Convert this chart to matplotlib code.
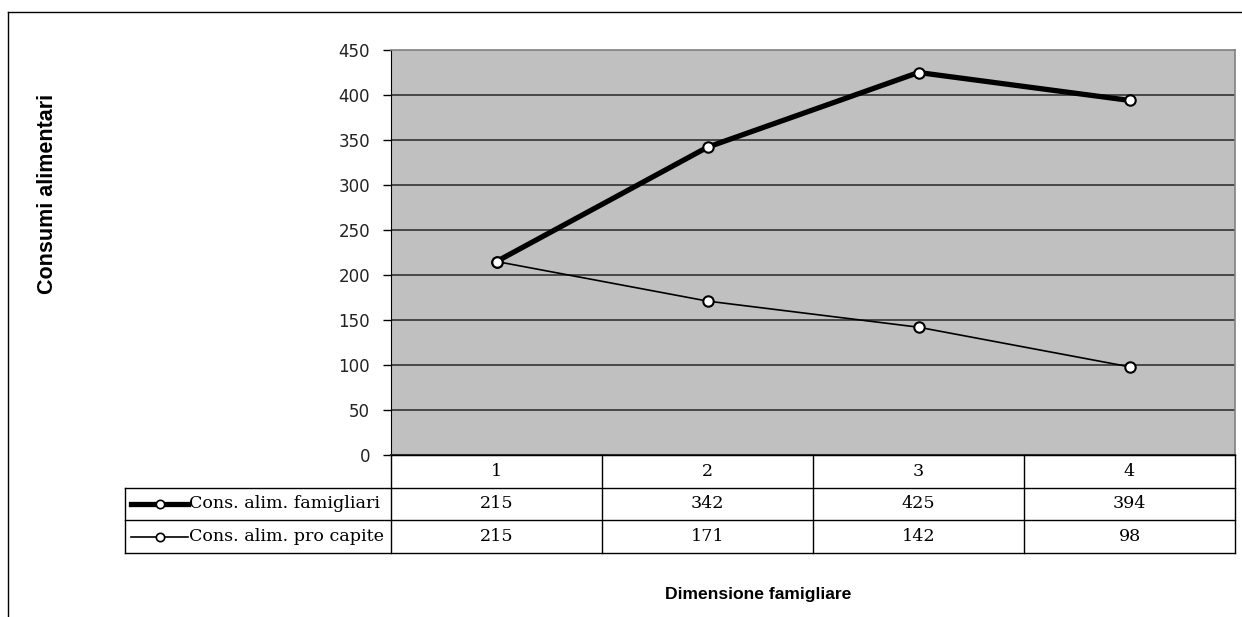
import matplotlib
matplotlib.use("Agg")
import matplotlib.pyplot as plt
from matplotlib.lines import Line2D

# dati
categorie = ["1", "2", "3", "4"]
famigliari = [215, 342, 425, 394]
pro_capite = [215, 171, 142, 98]
serie_nomi = ["Cons. alim. famigliari", "Cons. alim. pro capite"]
y_ticks = [0, 50, 100, 150, 200, 250, 300, 350, 400, 450]

W, H = 1242, 617
fig = plt.figure(figsize=(W / 100, H / 100), dpi=100)
fig.patch.set_facecolor("white")

# cornice dell'area grafico (tagliata a destra e in basso)
fig.add_artist(Line2D([8 / W, 8 / W], [0, 1 - 12 / H], color="black", lw=1, transform=fig.transFigure))
fig.add_artist(Line2D([8 / W, 1], [1 - 12 / H, 1 - 12 / H], color="black", lw=1, transform=fig.transFigure))

# area del tracciato
x0, x1, ytop, ybot = 391, 1235, 50, 455
ax = fig.add_axes([x0 / W, 1 - ybot / H, (x1 - x0) / W, (ybot - ytop) / H])
ax.set_facecolor("#c0c0c0")
ax.set_xlim(0, len(categorie))
ax.set_ylim(0, 450)
ax.set_yticks(y_ticks)
ax.set_yticklabels([str(v) for v in y_ticks], fontsize=12, family="DejaVu Sans", color="#222222")
ax.tick_params(axis="y", length=6, width=1, pad=9, direction="out")
ax.set_xticks([])
for v in y_ticks[1:-1]:
    ax.axhline(v, color="#333333", lw=1.2, zorder=1)
for s in ["top", "right"]:
    ax.spines[s].set_color("#808080")
    ax.spines[s].set_linewidth(1.2)
ax.spines["left"].set_color("black")
ax.spines["bottom"].set_color("#333333")
ax.spines["bottom"].set_linewidth(1.5)

xs = [i + 0.5 for i in range(len(categorie))]
stili = [dict(lw=3.8), dict(lw=1.2)]
for vals, st in zip([famigliari, pro_capite], stili):
    ax.plot(xs, vals, color="black", marker="o", markersize=7.5, markerfacecolor="white",
            markeredgecolor="black", markeredgewidth=1.5, zorder=3, clip_on=False, **st)

# tabella dati
tl, tb, tt = 125, 553, 455
lab_w = (x0 - tl) / ((x1 - x0) / len(categorie))
tab = fig.add_axes([tl / W, 1 - tb / H, (x1 - tl) / W, (tb - tt) / H])
tab.set_xlim(-lab_w, len(categorie))
tab.set_ylim(0, 3)
tab.axis("off")
lk = dict(color="black", lw=1, clip_on=False)
# bordi
tab.plot([0, len(categorie)], [3, 3], **lk)
tab.plot([-lab_w, len(categorie)], [2, 2], **lk)
tab.plot([-lab_w, len(categorie)], [1, 1], **lk)
tab.plot([-lab_w, len(categorie)], [0, 0], **lk)
tab.plot([-lab_w, -lab_w], [0, 2], **lk)
for i in range(len(categorie) + 1):
    tab.plot([i, i], [0, 3], **lk)

fs = 12.6
ff = "DejaVu Serif"
for i, c in enumerate(categorie):
    tab.text(i + 0.5, 2.5, c, ha="center", va="center", fontsize=fs, family=ff)
for r, (nome, vals, st) in enumerate(zip(serie_nomi, [famigliari, pro_capite], stili)):
    yr = 1.5 - r
    for i, v in enumerate(vals):
        tab.text(i + 0.5, yr, str(v), ha="center", va="center", fontsize=fs, family=ff)
    kx0 = -lab_w + 6 / 211
    kx1 = -lab_w + 63 / 211
    tab.plot([kx0, kx1], [yr, yr], color="black", clip_on=False, **st)
    tab.plot([(kx0 + kx1) / 2], [yr], marker="o", markersize=6, markerfacecolor="white",
             markeredgecolor="black", markeredgewidth=1.2, clip_on=False)
    tab.text(kx1 + 1 / 211, yr, nome, ha="left", va="center", fontsize=fs, family=ff)

# titoli degli assi
fig.text(48 / W, 1 - 194 / H, "Consumi alimentari", rotation=90, ha="center", va="center",
         fontsize=15.5, fontweight="bold", family="Liberation Sans")
fig.text(758 / W, 1 - 594 / H, "Dimensione famigliare", ha="center", va="center",
         fontsize=12.6, fontweight="bold", family="Liberation Sans")

fig.savefig("out.png", dpi=100)
